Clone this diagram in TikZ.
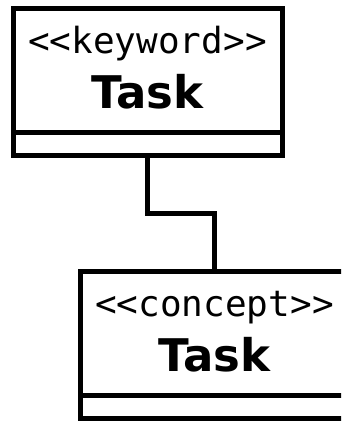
\documentclass[tikz,border=0pt]{standalone}
\usepackage{fontspec}
\usetikzlibrary{calc}
\setmainfont{DejaVu Sans}
\newfontfamily\stereofont{DejaVu Sans Mono}
\begin{document}
\begin{tikzpicture}[x=1pt,y=-1pt,
  umlbox/.style={draw=black,line width=5pt,rectangle,minimum width=269pt,minimum height=147pt,inner sep=0pt,outer sep=0pt},
  stereo/.style={anchor=base,inner sep=0pt,font=\stereofont\fontsize{36}{40}\selectfont},
  title/.style={anchor=base,inner sep=0pt,font=\bfseries\fontsize{45}{50}\selectfont},
  link/.style={draw=black,line width=5pt}]
\clip (0,0) rectangle (341,421);
\fill[white] (0,0) rectangle (341,421);
% top class
\node[umlbox] (kw) at (147.5,81.5) {};
\coordinate (kwdl) at ($(kw.south west)+(0,-22.5)$);
\coordinate (kwdr) at ($(kw.south east)+(0,-22.5)$);
\draw[link] (kwdl) -- (kwdr);
\node[stereo] (kwst) at (147.5,53) {<\kern0pt<keyword>\kern0pt>};
\node[title] (kwtt) at (147.5,108) {Task};
% bottom class
\node[umlbox] (ck) at (214.5,344.5) {};
\coordinate (ckdl) at ($(ck.south west)+(0,-22.5)$);
\coordinate (ckdr) at ($(ck.south east)+(0,-22.5)$);
\draw[link] (ckdl) -- (ckdr);
\node[stereo] (ckst) at (214.5,316) {<\kern0pt<concept>\kern0pt>};
\node[title] (cktt) at (214.5,371) {Task};
% connector
\draw[link] (kw.south) -- ++(0,58) -| (ck.north);
\end{tikzpicture}
\end{document}
